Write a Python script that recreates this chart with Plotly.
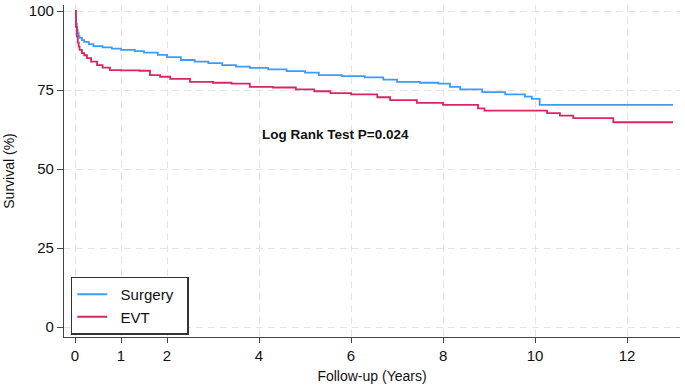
import plotly.graph_objects as go

# Kaplan-Meier step data (years, survival %)
surgery_t = [0, 0.02, 0.04, 0.06, 0.08, 0.1, 0.15, 0.2, 0.3, 0.4, 0.6, 0.8, 1.0, 1.3, 1.5, 1.8, 2.0, 2.3, 2.6,
             2.9, 3.2, 3.5, 3.8, 4.2, 4.6, 5.0, 5.3, 5.8, 6.3, 6.7, 7.0, 7.5, 7.9, 8.15, 8.37, 8.85, 9.35, 9.78,
             9.93, 10.1, 13.0]
surgery_s = [100, 96, 94, 93, 92, 91.5, 90.8, 90.2, 89.5, 88.9, 88.5, 88.1, 87.7, 87.3, 86.8, 86.1, 85.4, 84.5,
             84.0, 83.5, 82.9, 82.4, 82.0, 81.5, 81.0, 80.5, 79.7, 79.4, 79.0, 78.3, 77.6, 77.3, 77.0, 76.0, 75.2,
             74.3, 73.6, 72.9, 72.2, 70.3, 70.3]

evt_t = [0, 0.02, 0.04, 0.06, 0.08, 0.1, 0.15, 0.2, 0.26, 0.35, 0.48, 0.6, 0.76, 1.0, 1.4, 1.63, 1.85, 2.07, 2.5,
         3.0, 3.4, 3.8, 4.3, 4.8, 5.2, 5.55, 6.0, 6.57, 6.85, 7.43, 8.0, 8.76, 8.9, 10.26, 10.54, 10.83, 11.7, 13.0]
evt_s = [100, 95, 92, 90, 88.7, 87.7, 86.7, 86.0, 85.1, 84.0, 82.9, 82.1, 81.3, 81.2, 81.1, 79.7, 79.2, 78.5, 77.6,
         77.3, 77.0, 76.0, 75.8, 75.2, 74.6, 74.0, 73.6, 72.7, 71.8, 70.9, 70.3, 69.2, 68.5, 67.7, 66.9, 66.1,
         64.8, 64.8]

series_names = ["Surgery", "EVT"]
x_ticks = [0, 1, 2, 4, 6, 8, 10, 12]
y_ticks = [0, 25, 50, 75, 100]

FONT = "Liberation Sans, Arial, sans-serif"
NB = "\u00a0\u00a0"

fig = go.Figure()
fig.add_trace(go.Scatter(x=surgery_t, y=surgery_s, mode="lines", line_shape="hv",
                         name=NB + series_names[0] + NB, line=dict(color="#3d9bff", width=1.8)))
fig.add_trace(go.Scatter(x=evt_t, y=evt_s, mode="lines", line_shape="hv",
                         name=NB + series_names[1] + NB, line=dict(color="#dc2462", width=1.8)))

fig.add_annotation(x=5.67, y=60.8, xref="x", yref="y", text="<b>Log Rank Test P=0.024</b>",
                   showarrow=False, font=dict(family=FONT, size=13.5, color="#111111"))

grid = dict(showgrid=True, gridcolor="#e4e4e4", griddash="7px,5px", gridwidth=1)

fig.update_layout(
    width=685, height=387,
    margin=dict(l=64, r=5, t=5, b=50),
    paper_bgcolor="white", plot_bgcolor="white",
    font=dict(family=FONT, size=15, color="#111111"),
    showlegend=True,
    legend=dict(x=0.011, y=0.0075, xanchor="left", yanchor="bottom",
                bordercolor="#333333", borderwidth=1.5, bgcolor="white",
                font=dict(family=FONT, size=15), tracegroupgap=0),
    xaxis=dict(range=[-0.239, 13.15], tickvals=x_ticks, ticks="outside", ticklen=5,
               tickcolor="#444444", showline=True, linecolor="#444444", linewidth=1.2,
               automargin=False,
               zeroline=False, title=dict(text="Follow-up (Years)", font=dict(size=14), standoff=8),
               tickfont=dict(size=15), **grid),
    yaxis=dict(range=[-3.16, 101.9], tickvals=y_ticks, ticks="outside", ticklen=6,
               tickcolor="#444444", showline=True, linecolor="#444444", linewidth=1.2,
               automargin=False,
               zeroline=False, title=dict(text="Survival (%)", font=dict(size=14), standoff=10),
               tickfont=dict(size=15), **grid),
)

fig.write_html("out.html", config={"displayModeBar": False},
               post_script="document.body.style.margin='0';document.body.style.overflow='hidden';")
